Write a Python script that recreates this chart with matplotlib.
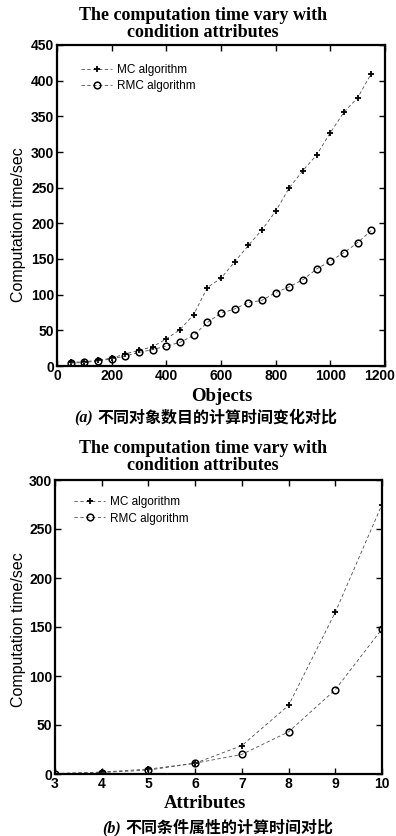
import matplotlib
matplotlib.use("Agg")
import matplotlib.pyplot as plt
from matplotlib.transforms import ScaledTranslation

# ---- data (panel a) ----
objects = [50, 100, 150, 200, 250, 300, 350, 400, 450, 500, 550, 600,
           650, 700, 750, 800, 850, 900, 950, 1000, 1050, 1100, 1150]
mc_a = [5, 6, 8, 11, 17, 22, 27, 38, 51, 72, 110, 123,
        146, 169, 191, 217, 250, 274, 296, 327, 356, 376, 410]
rmc_a = [4, 5, 7, 10, 14, 19, 23, 28, 33, 43, 61, 74,
         80, 89, 92, 103, 111, 121, 136, 147, 159, 173, 190]

# ---- data (panel b) ----
attributes = [3, 4, 5, 6, 7, 8, 9, 10]
mc_b = [0.5, 2, 5, 11, 29, 70, 165, 275]
rmc_b = [0.3, 1.5, 4, 11, 20, 43, 86, 148]

xticks_a = [0, 200, 400, 600, 800, 1000, 1200]
yticks_a = [0, 50, 100, 150, 200, 250, 300, 350, 400, 450]
xticks_b = [3, 4, 5, 6, 7, 8, 9, 10]
yticks_b = [0, 50, 100, 150, 200, 250, 300]

title_text = "The computation time vary with\ncondition attributes"
legend_labels = ["MC algorithm", "RMC algorithm"]
ylabel_text = "Computation time/sec"
xlabel_a = "Objects"
xlabel_b = "Attributes"
caption_a = ("(a)", "不同对象数目的计算时间变化对比")
caption_b = ("(b)", "不同条件属性的计算时间对比")

W, H = 396, 836
fig = plt.figure(figsize=(W / 100, H / 100), dpi=100)

sans = ["Liberation Sans", "DejaVu Sans"]
serif = ["Liberation Serif", "DejaVu Serif"]
cjk = ["Noto Sans CJK SC", "DejaVu Sans"]


def fx(px):
    return px / W


def fy(py):
    return 1 - py / H


def style_axes(ax, xticks, yticks, xlim, ylim):
    ax.set_xlim(*xlim)
    ax.set_ylim(*ylim)
    ax.set_xticks(xticks)
    ax.set_yticks(yticks)
    ax.tick_params(direction="in", length=4, width=1, top=True, right=True,
                   labelsize=10, pad=2)
    for lab in ax.get_xticklabels() + ax.get_yticklabels():
        lab.set_family(sans)
        lab.set_fontweight("bold")
    for s in ax.spines.values():
        s.set_linewidth(1.6)


def draw_panel(ax, x, mc, rmc, leg_anchor):
    l1, = ax.plot(x, mc, linestyle=(0, (4, 3)), color="0.3", lw=0.6,
                  marker="+", markersize=5, markeredgewidth=1.3,
                  markeredgecolor="black")
    l2, = ax.plot(x, rmc, linestyle=(0, (4, 3)), color="0.3", lw=0.6,
                  marker="o", markersize=4.8, markerfacecolor="none",
                  markeredgewidth=1.1, markeredgecolor="black")
    ax.legend([l1, l2], legend_labels, loc="upper left",
              bbox_to_anchor=leg_anchor, frameon=False,
              prop={"family": sans, "size": 8.5},
              handlelength=2.6, handletextpad=0.4, labelspacing=0.35,
              borderaxespad=0)


# Panel a
ax1 = fig.add_axes([fx(57), fy(366), fx(385 - 57), (366 - 45) / H])
draw_panel(ax1, objects, mc_a, rmc_a, (0.06, 0.955))
style_axes(ax1, xticks_a, yticks_a, (0, 1200), (0, 450))
ax1.set_ylabel(ylabel_text, family=sans, fontsize=11.5)
ax1.yaxis.set_label_coords(-0.095, 0.44)
last = ax1.get_xticklabels()[-1]
last.set_transform(last.get_transform()
                   + ScaledTranslation(-5 / 100, 0, fig.dpi_scale_trans))
fig.text(fx(203), fy(24), title_text, ha="center", va="center",
         family=serif, fontweight="bold", fontsize=13, linespacing=0.95)
fig.text(fx(222), fy(397), xlabel_a, ha="center", va="center",
         family=serif, fontweight="bold", fontsize=13.5)
fig.text(fx(93), fy(418), caption_a[0], ha="right", va="center",
         family=serif, fontweight="bold", style="italic", fontsize=11.5)
fig.text(fx(97), fy(418), caption_a[1], ha="left", va="center",
         family=cjk, fontweight="bold", fontsize=11.5)

# Panel b
ax2 = fig.add_axes([fx(55), fy(774), fx(382 - 55), (774 - 480) / H])
draw_panel(ax2, attributes, mc_b, rmc_b, (0.045, 0.96))
style_axes(ax2, xticks_b, yticks_b, (3, 10), (0, 300))
ax2.set_ylabel(ylabel_text, family=sans, fontsize=11.5)
ax2.yaxis.set_label_coords(-0.089, 0.49)
fig.text(fx(203), fy(457), title_text, ha="center", va="center",
         family=serif, fontweight="bold", fontsize=13, linespacing=0.95)
fig.text(fx(205), fy(803), xlabel_b, ha="center", va="center",
         family=serif, fontweight="bold", fontsize=13.5)
fig.text(fx(121), fy(828), caption_b[0], ha="right", va="center",
         family=serif, fontweight="bold", style="italic", fontsize=11.5)
fig.text(fx(125), fy(828), caption_b[1], ha="left", va="center",
         family=cjk, fontweight="bold", fontsize=11.5)

fig.savefig("out.png", dpi=100)
